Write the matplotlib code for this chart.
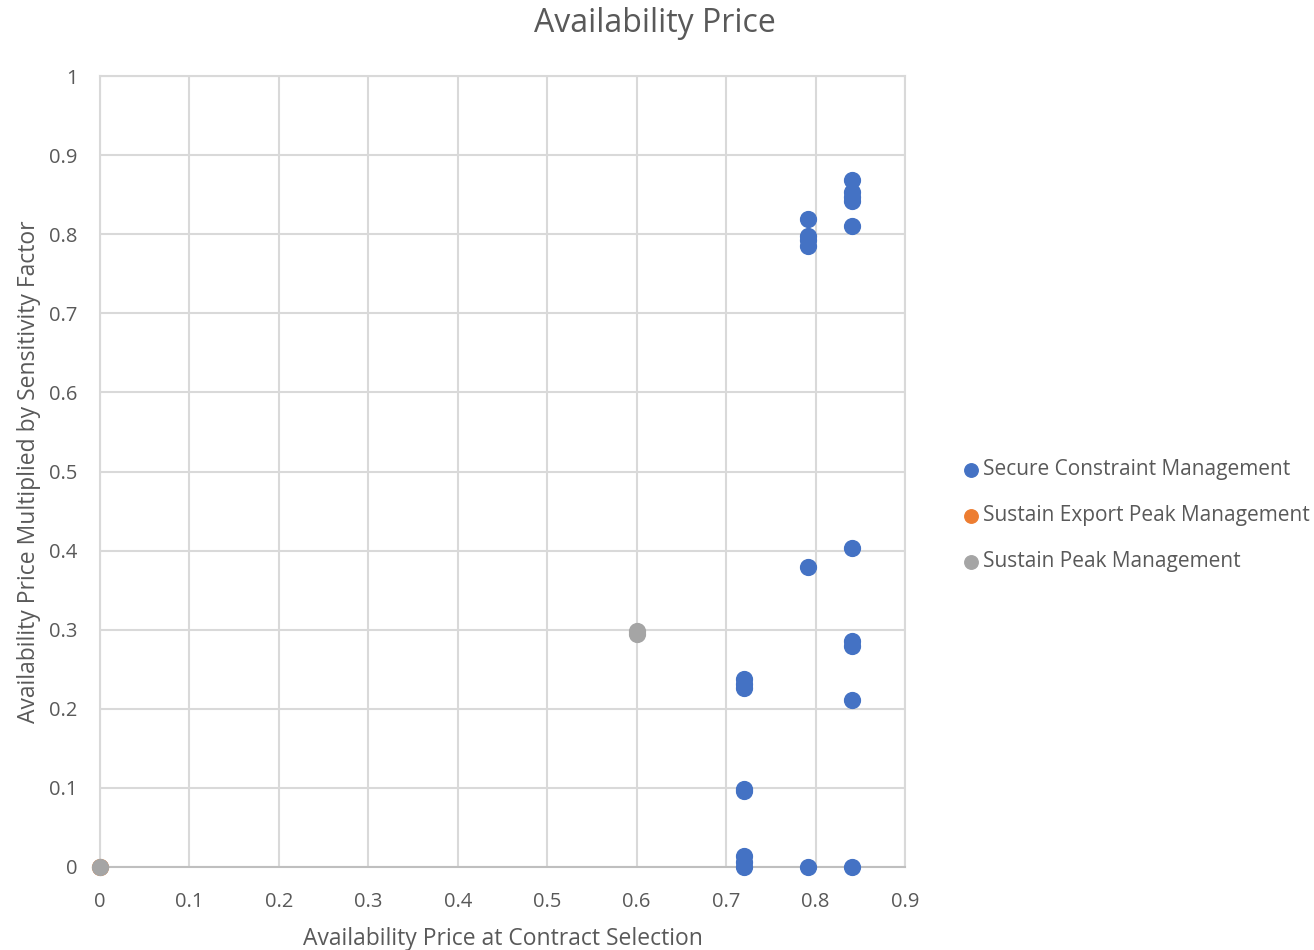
import matplotlib
matplotlib.use("Agg")
import matplotlib.pyplot as plt

plt.rcParams['font.family'] = ['Open Sans', 'DejaVu Sans']

# Secure Constraint Management
secure_x = [0.72, 0.72, 0.72, 0.72, 0.72, 0.72, 0.72, 0.72,
            0.792, 0.792, 0.792, 0.792, 0.792, 0.792,
            0.841, 0.841, 0.841, 0.841, 0.841, 0.841, 0.841, 0.841, 0.841, 0.841]
secure_y = [0.238, 0.231, 0.226, 0.099, 0.096, 0.014, 0.006, 0.0,
            0.819, 0.798, 0.793, 0.785, 0.379, 0.0,
            0.869, 0.853, 0.847, 0.842, 0.810, 0.403, 0.286, 0.279, 0.211, 0.0]

# Sustain Export Peak Management
export_x = [0.0]
export_y = [0.0]

# Sustain Peak Management
peak_x = [0.0, 0.6, 0.6]
peak_y = [0.0, 0.298, 0.294]

fig = plt.figure(figsize=(13.14, 9.5), dpi=100)
ax = fig.add_axes([100 / 1314, 1 - 867 / 950, 805 / 1314, 791 / 950])

ax.scatter(secure_x, secure_y, s=130, color='#4472c4', label='Secure Constraint Management', zorder=3, clip_on=False)
ax.scatter(export_x, export_y, s=130, color='#ed7d31', label='Sustain Export Peak Management', zorder=3, clip_on=False)
ax.scatter(peak_x, peak_y, s=130, color='#a5a5a5', label='Sustain Peak Management', zorder=4, clip_on=False)

ax.set_xlim(0, 0.9)
ax.set_ylim(0, 1)
ax.set_xticks([i / 10 for i in range(10)])
ax.set_yticks([i / 10 for i in range(11)])
ax.set_xticklabels(['0', '0.1', '0.2', '0.3', '0.4', '0.5', '0.6', '0.7', '0.8', '0.9'])
ax.set_yticklabels(['0', '0.1', '0.2', '0.3', '0.4', '0.5', '0.6', '0.7', '0.8', '0.9', '1'])
ax.grid(True, color='#d9d9d9', linewidth=1.5, zorder=0)
ax.set_axisbelow(True)
for side in ['left', 'top', 'right']:
    ax.spines[side].set_color('#d9d9d9')
    ax.spines[side].set_linewidth(1.5)
ax.spines['bottom'].set_color('#bfbfbf')
ax.spines['bottom'].set_linewidth(1.5)
ax.tick_params(length=0, labelsize=14.5, colors='#595959')
ax.tick_params(axis='x', pad=18)
ax.tick_params(axis='y', pad=16)

ax.set_xlabel('Availability Price at Contract Selection', fontsize=16.5, color='#595959', labelpad=11)
ax.set_ylabel('Availability Price Multiplied by Sensitivity Factor', fontsize=16.5, color='#595959', labelpad=6)
fig.text(655 / 1314, 1 - 24 / 950, 'Availability Price', fontsize=23, color='#595959', ha='center', va='center')

leg = fig.legend(loc='center left', bbox_to_anchor=(952 / 1314, 1 - 516 / 950), frameon=False,
                 fontsize=15, markerscale=0.85, handlelength=1.0, handletextpad=0.1,
                 labelspacing=1.2, labelcolor='#595959', borderaxespad=0)

fig.savefig('out.png', dpi=100)
